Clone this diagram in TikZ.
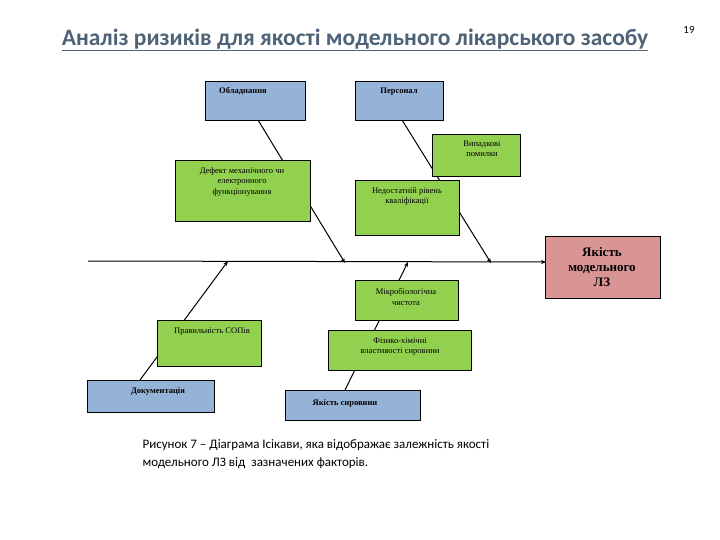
\documentclass[tikz,border=0pt]{standalone}
\usepackage{fontspec}
\setmainfont{Liberation Serif}
\newfontfamily\calfont{Carlito}
\usetikzlibrary{arrows.meta}
\definecolor{bb}{HTML}{95B3D7}
\definecolor{gg}{HTML}{92D050}
\definecolor{pk}{HTML}{D99594}
\definecolor{tt}{HTML}{4F6378}
\begin{document}
\begin{tikzpicture}[x=1pt,y=-1pt,
 bx/.style={draw,line width=0.6pt,anchor=north west,inner sep=0pt},
 tx/.style={font=\fontsize{8.5}{10.5}\selectfont,align=center,anchor=north},
 btx/.style={font=\bfseries\fontsize{8.5}{10.5}\selectfont,align=center,anchor=north},
 ar/.style={line width=1pt,-{Stealth[length=5pt,width=4pt]}}]
\useasboundingbox[fill=white] (0,0) rectangle (720,540);
\node[anchor=center,font=\calfont\bfseries\fontsize{23.5}{26}\selectfont,text=tt] (title) at (355,40) {\underline{Аналіз ризиків для якості модельного лікарського засобу}};
\node[font=\calfont\fontsize{11}{12}\selectfont] (pg) at (689,30) {19};
% connector ends
\coordinate (s0) at (88,261);
\coordinate (s1) at (546,262);
\coordinate (a1) at (345,263);
\coordinate (a2) at (491,263);
\coordinate (b1) at (228,261);
\coordinate (b2) at (408,262);
\coordinate (o1) at (258,120);
\coordinate (p1) at (402,120);
\coordinate (d1) at (140,380);
\coordinate (y1) at (345,390);
\draw[ar] (s0) -- (s1);
\draw[ar] (o1) -- (a1);
\draw[ar] (p1) -- (a2);
\draw[ar] (d1) -- (b1);
\draw[ar] (y1) -- (b2);
% boxes
\node[bx,fill=bb,minimum width=100pt,minimum height=39pt] (obl) at (205,81) {};
\node[btx] (oblt) at (243,84) {Обладнання};
\node[bx,fill=bb,minimum width=88pt,minimum height=39pt] (per) at (355,81) {};
\node[btx] (pert) at (399,84) {Персонал};
\node[bx,fill=gg,minimum width=88pt,minimum height=42pt] (vyp) at (432,134) {};
\node[tx] (vypt) at (482,137) {Випадкові\\помилки};
\node[bx,fill=gg,minimum width=135pt,minimum height=61pt] (def) at (175,160) {};
\node[tx] (deft) at (242,164) {Дефект механічного чи\\електронного\\функціонування};
\node[bx,fill=gg,minimum width=104pt,minimum height=55pt] (ned) at (355,180) {};
\node[tx] (nedt) at (407,184) {Недостатній рівень\\кваліфікації};
\node[bx,fill=pk,minimum width=115pt,minimum height=62pt] (res) at (545,236) {};
\node[font=\bfseries\fontsize{13}{15}\selectfont,align=center] (rest) at (602,267) {Якість\\модельного\\ЛЗ};
\node[bx,fill=gg,minimum width=103pt,minimum height=40pt] (mik) at (355,280) {};
\node[tx] (mikt) at (406,285) {Мікробіологічна\\чистота};
\node[bx,fill=gg,minimum width=104pt,minimum height=46pt] (sop) at (157,320) {};
\node[tx] (sopt) at (212,324) {Правильність СОПів};
\node[bx,fill=gg,minimum width=143pt,minimum height=40pt] (fiz) at (328,330) {};
\node[tx] (fizt) at (400,334) {Фізико-хімічні\\властивості сировини};
\node[bx,fill=bb,minimum width=127pt,minimum height=32pt] (doc) at (87,380) {};
\node[btx] (doct) at (158,384) {Документація};
\node[bx,fill=bb,minimum width=135pt,minimum height=30pt] (syr) at (285,390) {};
\node[btx] (syrt) at (345,396) {Якість сировини};
% caption
\node[font=\calfont\fontsize{13}{18}\selectfont,align=left,anchor=north west] (cap) at (139,436) {Рисунок 7 – Діаграма Ісікави, яка відображає залежність якості\\модельного ЛЗ від \ зазначених факторів.};
\end{tikzpicture}
\end{document}
